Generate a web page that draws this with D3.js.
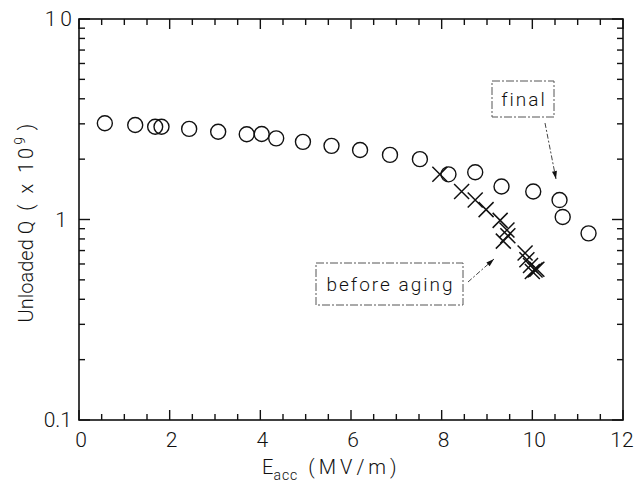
<!DOCTYPE html>
<html><head><meta charset="utf-8">
<script src="https://cdn.jsdelivr.net/npm/d3@7/dist/d3.min.js"></script>
<style>body{margin:0;background:#fff;}svg text{font-family:Roboto,"DejaVu Sans",sans-serif;fill:#111;}</style>
</head><body><svg id="c" width="636" height="483"></svg>
<script>
// Data
const finalE = [0.57,1.24,1.68,1.82,2.43,3.07,3.70,4.03,4.35,4.94,5.57,6.20,6.86,7.52,8.15,8.74,9.32,10.02,10.60,10.67,11.24];
const finalQ = [3.02,2.96,2.90,2.90,2.83,2.74,2.66,2.67,2.54,2.44,2.33,2.22,2.10,2.00,1.68,1.72,1.46,1.38,1.25,1.03,0.853];
const beforeE = [7.96,8.44,8.74,8.98,9.29,9.44,9.46,9.36,9.84,9.88,9.96,10.06,10.00,10.10];
const beforeQ = [1.68,1.38,1.25,1.12,0.99,0.886,0.83,0.78,0.68,0.63,0.59,0.56,0.55,0.565];
const xTicks = [0,2,4,6,8,10,12];
const yTickLabels = [{v:0.1,t:"0.1"},{v:1,t:"1"},{v:10,t:"10"}];

const svg = d3.select("#c");
const L=79,R=623,T=19,B=420;
const x = d3.scaleLinear().domain([0,12]).range([L,R]);
const y = d3.scaleLog().domain([0.1,10]).range([B,T]);

const g = svg.append("g");
g.append("rect").attr("x",L).attr("y",T).attr("width",R-L).attr("height",B-T)
 .attr("fill","none").attr("stroke","#111").attr("stroke-width",1.6);

const xMinor = d3.range(0,12.01,0.5);
xMinor.forEach(v=>{
  const major = Math.abs(v%2)<1e-6;
  const len = major?10:6;
  g.append("line").attr("x1",x(v)).attr("x2",x(v)).attr("y1",B).attr("y2",B-len).attr("stroke","#111").attr("stroke-width",1.4);
  g.append("line").attr("x1",x(v)).attr("x2",x(v)).attr("y1",T).attr("y2",T+len).attr("stroke","#111").attr("stroke-width",1.4);
});
const yT=[];
[0.1,1].forEach(d=>{for(let k=1;k<10;k++) yT.push({v:d*k,major:k===1});});
yT.push({v:10,major:true});
yT.forEach(t=>{
  const len=t.major?11:6;
  g.append("line").attr("x1",L).attr("x2",L+len).attr("y1",y(t.v)).attr("y2",y(t.v)).attr("stroke","#111").attr("stroke-width",1.4);
  g.append("line").attr("x1",R).attr("x2",R-len).attr("y1",y(t.v)).attr("y2",y(t.v)).attr("stroke","#111").attr("stroke-width",1.4);
});

xTicks.forEach(v=>{
  g.append("text").attr("x",Math.min(x(v)+2,622)).attr("y",447).attr("text-anchor","middle")
   .attr("font-size",21).attr("font-weight",300).text(v);
});
yTickLabels.forEach(d=>{
  const t = g.append("text").attr("x",d.v===1?67:72).attr("y",y(d.v)+7).attr("text-anchor","end")
   .attr("font-size",21).attr("font-weight",300);
  if(d.v===10){ t.append("tspan").text("1"); t.append("tspan").attr("dx",4).text("0"); }
  else t.text(d.t);
});

const xt = g.append("text").attr("x",262).attr("y",474).attr("font-size",20).attr("font-weight",300);
xt.append("tspan").text("E");
xt.append("tspan").attr("dy",6).attr("font-size",14).attr("letter-spacing",1).text("acc");
xt.append("tspan").attr("dy",-6).attr("dx",10).attr("letter-spacing",4).text("(MV/m)");

const yt = g.append("text").attr("transform","translate(33,223) rotate(-90)").attr("text-anchor","middle")
  .attr("font-size",20).attr("font-weight",300);
yt.append("tspan").text("Unloaded Q");
yt.append("tspan").attr("dx",10).attr("letter-spacing",3).text("( x 10");
yt.append("tspan").attr("dy",-8).attr("font-size",14).text("9");
yt.append("tspan").attr("dy",8).attr("dx",2).text(" )");

g.selectAll("circle.f").data(finalE.map((e,i)=>[e,finalQ[i]])).enter().append("circle")
 .attr("cx",d=>x(d[0])).attr("cy",d=>y(d[1])).attr("r",7.5)
 .attr("fill","none").attr("stroke","#111").attr("stroke-width",1.4);
const cs=7.5;
g.selectAll("path.b").data(beforeE.map((e,i)=>[e,beforeQ[i]])).enter().append("path")
 .attr("d",d=>{const cx=x(d[0]),cy=y(d[1]);return `M${cx-cs},${cy-cs}L${cx+cs},${cy+cs}M${cx-cs},${cy+cs}L${cx+cs},${cy-cs}`;})
 .attr("stroke","#111").attr("stroke-width",1.5).attr("fill","none");

function box(x0,y0,w,h,label){
  g.append("rect").attr("x",x0).attr("y",y0).attr("width",w).attr("height",h)
   .attr("fill","none").attr("stroke","#555").attr("stroke-width",1).attr("stroke-dasharray","8,2,2,2");
  g.append("text").attr("x",x0+w/2+1).attr("y",y0+h/2+7).attr("text-anchor","middle")
   .attr("font-size",19).attr("font-weight",300).attr("letter-spacing",2).text(label);
}
function arrow(x1,y1,x2,y2){
  g.append("line").attr("x1",x1).attr("y1",y1).attr("x2",x2).attr("y2",y2)
   .attr("stroke","#444").attr("stroke-width",1).attr("stroke-dasharray","5,2,2,2");
  const a=Math.atan2(y2-y1,x2-x1), s=8, w=2.5;
  const px=x2-s*Math.cos(a), py=y2-s*Math.sin(a);
  g.append("path").attr("d",`M${x2},${y2}L${px-w*Math.sin(a)},${py+w*Math.cos(a)}L${px+w*Math.sin(a)},${py-w*Math.cos(a)}Z`).attr("fill","#111");
}
box(492,81,62,36,"final");
arrow(545,123,556,179);
box(316,263,147,42,"before aging");
arrow(468,282,494,259);
</script></body></html>
